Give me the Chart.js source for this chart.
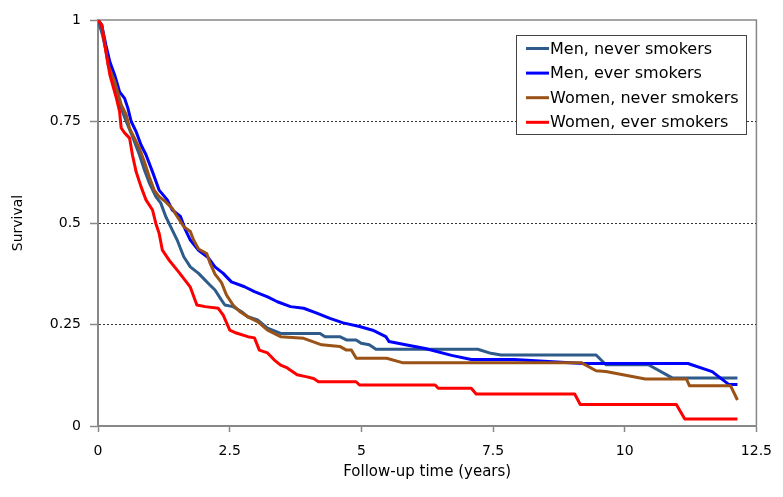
<!DOCTYPE html>
<html><head><meta charset="utf-8">
<script src="https://cdn.jsdelivr.net/npm/chart.js@4.4.1/dist/chart.umd.min.js"></script>
<style>html,body{margin:0;padding:0;background:#fff;}#wrap{width:783px;height:497px;}</style>
</head><body><div id="wrap"><canvas id="c" width="783" height="497"></canvas></div>
<script>
// Follow-up time (years) and survival
const menNeverT = [0,0.075,0.187,0.3,0.41,0.524,0.636,0.73,0.786,0.88,0.973,1.098,1.192,1.286,1.379,1.503,1.628,1.753,1.909,2.096,2.221,2.345,2.408,2.564,2.719,2.844,3.03,3.218,3.467,4.216,4.31,4.59,4.716,4.9,4.996,5.15,5.277,7.21,7.46,7.65,9.456,9.643,10.45,10.91,12.14];
const menNeverS = [1,0.968,0.906,0.845,0.793,0.754,0.719,0.687,0.668,0.631,0.599,0.565,0.549,0.516,0.491,0.458,0.417,0.392,0.376,0.351,0.335,0.31,0.298,0.294,0.282,0.269,0.261,0.241,0.228,0.228,0.22,0.22,0.212,0.212,0.204,0.2,0.189,0.189,0.179,0.175,0.175,0.151,0.151,0.118,0.118];

const menEverT = [0,0.07,0.15,0.225,0.318,0.41,0.505,0.567,0.63,0.724,0.818,0.911,1.035,1.16,1.316,1.41,1.566,1.66,1.753,1.909,2.096,2.221,2.377,2.532,2.783,2.97,3.219,3.406,3.655,3.905,4.154,4.403,4.654,4.965,5.215,5.464,5.526,5.838,6.213,6.712,7.086,7.897,9.207,11.2,11.66,11.98,12.14];
const menEverS = [1,0.988,0.938,0.897,0.864,0.823,0.807,0.783,0.75,0.725,0.692,0.668,0.626,0.581,0.557,0.532,0.516,0.483,0.458,0.433,0.414,0.392,0.376,0.355,0.343,0.331,0.318,0.306,0.294,0.29,0.278,0.265,0.254,0.245,0.236,0.22,0.208,0.2,0.191,0.174,0.164,0.164,0.154,0.154,0.134,0.102,0.102];

const womenNeverT = [0,0.07,0.193,0.318,0.443,0.537,0.599,0.692,0.786,0.88,0.973,1.067,1.16,1.286,1.409,1.503,1.628,1.753,1.815,1.909,2.064,2.128,2.221,2.345,2.438,2.564,2.689,2.844,3.03,3.219,3.467,3.905,4.247,4.59,4.716,4.81,4.903,5.48,5.777,9.175,9.456,9.643,10.39,11.17,11.23,12.01,12.14];
const womenNeverS = [1,0.988,0.889,0.848,0.791,0.766,0.733,0.709,0.684,0.651,0.614,0.581,0.565,0.552,0.536,0.516,0.491,0.479,0.458,0.436,0.425,0.401,0.374,0.353,0.323,0.298,0.282,0.269,0.257,0.236,0.22,0.216,0.2,0.196,0.187,0.187,0.167,0.167,0.156,0.156,0.136,0.134,0.116,0.116,0.099,0.099,0.064];

const womenEverT = [0,0.07,0.13,0.225,0.35,0.41,0.44,0.505,0.6,0.655,0.724,0.818,0.911,1.035,1.098,1.16,1.222,1.347,1.534,1.753,1.877,2.034,2.283,2.377,2.502,2.625,2.844,2.97,3.063,3.219,3.344,3.467,3.593,3.78,3.967,4.092,4.186,4.9,4.965,6.4,6.46,7.086,7.18,9.05,9.156,10.98,11.14,12.14];
const womenEverS = [1,0.988,0.938,0.865,0.807,0.774,0.734,0.722,0.709,0.667,0.626,0.589,0.557,0.532,0.499,0.475,0.433,0.409,0.379,0.342,0.298,0.294,0.29,0.273,0.236,0.229,0.22,0.217,0.187,0.18,0.163,0.15,0.143,0.126,0.121,0.117,0.109,0.109,0.101,0.101,0.093,0.093,0.079,0.079,0.053,0.053,0.017,0.017];

const seriesLabels = ['Men, never smokers','Men, ever smokers','Women, never smokers','Women, ever smokers'];
const xTickValues = [0,2.5,5,7.5,10,12.5];
const xTickLabels = ['0','2.5','5','7.5','10','12.5'];
const yTickValues = [0,0.25,0.5,0.75,1];
const yTickLabels = ['0','0.25','0.5','0.75','1'];
const xTitle = 'Follow-up time (years)';
const yTitle = 'Survival';

function pts(t,s){return t.map((v,i)=>({x:v,y:s[i]}));}

const FONT = '"DejaVu Sans", sans-serif';
const AXIS = '#888888';
const colors = ['#2E5B8A','#0000FF','#9A5216','#FF0000'];
const series = [[menNeverT,menNeverS],[menEverT,menEverS],[womenNeverT,womenNeverS],[womenEverT,womenEverS]];

const datasets = series.map((s,i)=>({
  label: seriesLabels[i],
  data: pts(s[0],s[1]),
  borderColor: colors[i],
  backgroundColor: colors[i],
  borderWidth: 3,
  pointRadius: 0,
  tension: 0,
  fill: false,
  borderJoinStyle: 'round',
  order: 4 - i
}));

const frame = {
  id:'frame',
  beforeDatasetsDraw(chart){
    const {ctx, chartArea:a} = chart;
    ctx.save();
    ctx.strokeStyle = AXIS; ctx.lineWidth = 1.5;
    ctx.beginPath();
    ctx.moveTo(a.left, a.top); ctx.lineTo(a.right, a.top); ctx.lineTo(a.right, a.bottom);
    ctx.stroke();
    ctx.restore();
  }
};

const boxLegend = {
  id:'boxLegend',
  afterDraw(chart){
    const ctx = chart.ctx;
    const x0 = 516.5, y0 = 35.5, w = 230, h = 99;
    ctx.save();
    ctx.fillStyle = '#fff'; ctx.fillRect(x0,y0,w,h);
    ctx.strokeStyle = '#444'; ctx.lineWidth = 1; ctx.strokeRect(x0,y0,w,h);
    ctx.font = '16px ' + FONT; ctx.textBaseline = 'middle'; ctx.textAlign = 'left';
    chart.data.datasets.forEach((ds,i)=>{
      const cy = 48.5 + i*24.6;
      ctx.strokeStyle = ds.borderColor; ctx.lineWidth = 3;
      ctx.beginPath(); ctx.moveTo(526,cy); ctx.lineTo(549,cy); ctx.stroke();
      ctx.fillStyle = '#000';
      ctx.fillText(ds.label, 550, cy+1);
    });
    ctx.restore();
  }
};

new Chart(document.getElementById('c'), {
  type: 'line',
  data: { datasets },
  plugins: [frame, boxLegend],
  options: {
    responsive: false,
    animation: false,
    devicePixelRatio: 1,
    layout: { padding: { top: 20, right: 17, left: 0, bottom: 0 } },
    plugins: { legend: { display: false }, tooltip: { enabled: false } },
    scales: {
      x: {
        type: 'linear', min: 0, max: 12.5,
        afterBuildTicks: s => { s.ticks = xTickValues.map(v=>({value:v})); },
        afterFit: s => { s.height = 71; },
        ticks: { font: { family: FONT, size: 14 }, color: '#000', padding: 11, maxRotation: 0, autoSkip: false,
                 callback: v => { const i = xTickValues.indexOf(v); return i >= 0 ? xTickLabels[i] : ''; } },
        grid: { drawOnChartArea: false, tickLength: 6, tickColor: AXIS, tickWidth: 1.5 },
        border: { color: AXIS, width: 2 },
        title: { display: true, text: xTitle, font: { family: FONT, size: 15 }, color: '#000', padding: { top: 0, bottom: 16 } }
      },
      y: {
        type: 'linear', min: 0, max: 1,
        afterBuildTicks: s => { s.ticks = yTickValues.map(v=>({value:v})); },
        afterFit: s => { s.width = 98; },
        ticks: { font: { family: FONT, size: 14 }, color: '#000', padding: 9,
                 callback: v => { const i = yTickValues.indexOf(v); return i >= 0 ? yTickLabels[i] : ''; } },
        grid: {
          color: c => (c.tick && c.tick.value > 0 && c.tick.value < 1) ? '#000' : 'rgba(0,0,0,0)',
          lineWidth: 0.8, tickLength: 8, tickColor: AXIS, tickWidth: 1.5
        },
        border: { color: AXIS, width: 2, dash: [2,2] },
        title: { display: true, text: yTitle, font: { family: FONT, size: 14 }, color: '#000', padding: { top: 10, bottom: 0 } }
      }
    }
  }
});
</script>
</body></html>
